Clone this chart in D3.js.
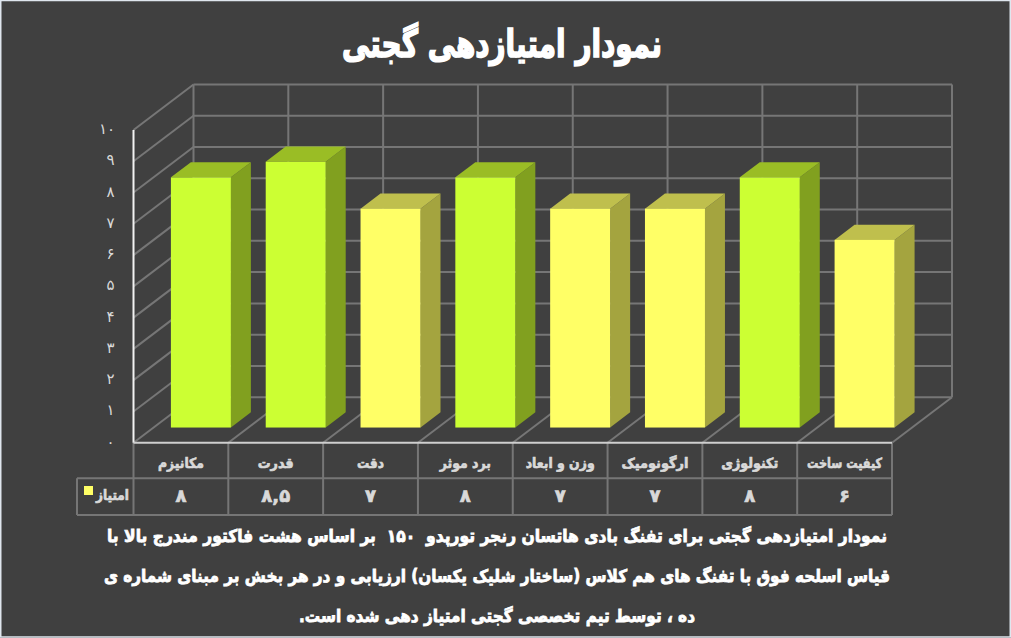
<!DOCTYPE html>
<html lang="fa"><head><meta charset="utf-8">
<script src="https://cdn.jsdelivr.net/npm/d3@7/dist/d3.min.js"></script>
<style>html,body{margin:0;padding:0;background:#404040;overflow:hidden}svg{display:block}
text{font-family:"DejaVu Sans",sans-serif}</style></head><body>
<svg id="c" width="1011" height="638"></svg>
<script>
const categories=["مکانیزم","قدرت","دقت","برد موثر","وزن و ابعاد","ارگونومیک","تکنولوژی","کیفیت ساخت"];
const values=[8,8.5,7,8,7,7,8,6];
const valueLabels=["۸","۸,۵","۷","۸","۷","۷","۸","۶"];
const highlighted=[true,true,false,true,false,false,true,false];
const tickValues=[0,1,2,3,4,5,6,7,8,9,10];
const tickLabels=["۰","۱","۲","۳","۴","۵","۶","۷","۸","۹","۱۰"];
const seriesName="امتیاز";
const title="نمودار امتیازدهی گجتی";
const caption=["نمودار امتیازدهی گجتی برای تفنگ بادی هاتسان رنجر تورپدو  ۱۵۰  بر اساس هشت فاکتور مندرج بالا با",
"قیاس اسلحه فوق با تفنگ های هم کلاس (ساختار شلیک یکسان) ارزیابی و در هر بخش بر مبنای شماره ی",
"ده ، توسط تیم تخصصی گجتی امتیاز دهی شده است."];
const captionWidths=[780,786,396];
const categoryWidths=[46,36,27,51,69,67,57,75];

const svg=d3.select("#c");
const grid="#767676", dx=60, dy=-45.5;
svg.append("rect").attr("width",1011).attr("height",638).attr("fill","#404040");
svg.append("rect").attr("x",0.75).attr("y",0.5).attr("width",1009.5).attr("height",636.5).attr("fill","none").attr("stroke","#dfe6ee").attr("stroke-width",1.5);

const x=d3.scaleBand().domain(d3.range(categories.length)).range([133.5,892]).paddingInner(0).paddingOuter(0);
const y=d3.scaleLinear().domain([0,10]).range([442.7,130]);
const bw=x.bandwidth();
const line=(x1,y1,x2,y2,c=grid,w=2)=>svg.append("line").attr("x1",x1).attr("y1",y1).attr("x2",x2).attr("y2",y2).attr("stroke",c).attr("stroke-width",w);

// walls and floor
tickValues.forEach(t=>{
  if(t>0) line(x(0),y(t),x(0)+dx,y(t)+dy);
  line(x(0)+dx,y(t)+dy,892+dx,y(t)+dy);
});
d3.range(categories.length+1).forEach(i=>{
  const px=x(0)+i*bw;
  line(px+dx,y(10)+dy,px+dx,y(0)+dy);
  line(px,y(0),px+dx,y(0)+dy);
});

// data table frame
const r1=478.2, r2=515;
line(77,r1,892,r1); line(77,r2,892,r2); line(77,r1,77,r2);
d3.range(categories.length+1).forEach(i=>line(x(0)+i*bw,y(0),x(0)+i*bw,r2));
line(x(0),y(10),x(0),y(0),"#f2f2f2",2);
line(x(0),y(0),892,y(0),"#cfcfcf",2);

// bars
const depth0=1/3, depth=1/3, pad=17.4, barW=60;
const colors={true:{f:"#ccff33",t:"#9abd25",s:"#81a01f"},false:{f:"#ffff66",t:"#bfbf4d",s:"#a4a43f"}};
const bars=svg.append("g").selectAll("g").data(values).join("g");
bars.each(function(v,i){
  const g=d3.select(this), c=colors[highlighted[i]];
  const x0=x(i)+dx*depth0+pad, x1=x0+barW;
  const yb=y(0)+dy*depth0, yt=yb-(y(0)-y(v));
  const ox=dx*depth, oy=dy*depth;
  g.append("polygon").attr("points",[[x1,yt],[x1+ox,yt+oy],[x1+ox,yb+oy],[x1,yb]].join(" ")).attr("fill",c.s);
  g.append("polygon").attr("points",[[x0,yt],[x0+ox,yt+oy],[x1+ox,yt+oy],[x1,yt]].join(" ")).attr("fill",c.t);
  g.append("rect").attr("x",x0).attr("y",yt).attr("width",barW).attr("height",yb-yt).attr("fill",c.f);
});

// value axis labels
svg.append("g").selectAll("text").data(tickValues).join("text")
  .attr("x",d=>d==10?107:110.5).attr("y",d=>y(d)+4).attr("text-anchor","middle")
  .attr("font-size",15).attr("fill","#d9d9d9").text((d,i)=>tickLabels[i]);

// data table text
const heavy=(sel,w)=>sel.attr("stroke",sel.attr("fill")).attr("stroke-width",w).attr("paint-order","stroke");
svg.append("g").selectAll("text").data(categories).join("text")
  .attr("x",(d,i)=>x(i)+bw/2).attr("y",468).attr("text-anchor","middle").attr("direction","rtl")
  .attr("textLength",(d,i)=>categoryWidths[i]).attr("lengthAdjust","spacingAndGlyphs")
  .attr("font-size",14).attr("font-weight",700).attr("fill","#d9d9d9").call(heavy,0.7).text(d=>d);
svg.append("g").selectAll("text").data(valueLabels).join("text")
  .attr("x",(d,i)=>x(i)+bw/2).attr("y",502).attr("text-anchor","middle").attr("direction","rtl")
  .attr("font-size",18).attr("font-weight",700).attr("fill","#d9d9d9").call(heavy,0.7).text(d=>d);
svg.append("rect").attr("x",84).attr("y",486).attr("width",9).attr("height",9).attr("fill","#ffff66");
svg.append("text").attr("x",129).attr("y",500).attr("text-anchor","start").attr("direction","rtl")
  .attr("textLength",33).attr("lengthAdjust","spacingAndGlyphs")
  .attr("font-size",14).attr("font-weight",700).attr("fill","#d9d9d9").call(heavy,0.7).text(seriesName);

// title and caption
svg.append("text").attr("x",502).attr("y",57).attr("text-anchor","middle").attr("direction","rtl")
  .attr("textLength",320).attr("lengthAdjust","spacingAndGlyphs")
  .attr("font-size",38).attr("font-weight",700).attr("fill","#fff").call(heavy,1.6).text(title);
svg.append("g").selectAll("text").data(caption).join("text")
  .attr("x",497).attr("y",(d,i)=>[542,582,622][i])
  .attr("text-anchor","middle").attr("direction","rtl").attr("xml:space","preserve")
  .attr("textLength",(d,i)=>captionWidths[i]).attr("lengthAdjust","spacingAndGlyphs")
  .attr("font-size",17.5).attr("font-weight",700).attr("fill","#fff").call(heavy,0.8).text(d=>d);
</script></body></html>
